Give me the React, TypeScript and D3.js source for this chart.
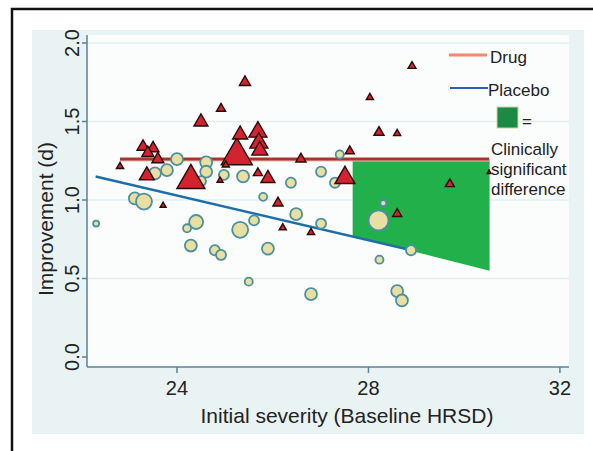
import { useEffect, useRef } from 'react';
import * as d3 from 'd3';

// Drug arms (triangles): baseline severity, improvement (d), sample weight
const drugX = [25.42, 24.92, 24.5, 23.29, 23.5, 23.39, 23.6, 22.81, 23.37, 24.29, 25.25, 25.32, 25.69, 25.71, 25.73, 25.69, 25.9, 24.9, 25.02, 23.71, 26.11, 26.21, 26.8, 26.59, 27.61, 27.51, 28.03, 28.91, 28.22, 28.6, 28.6, 29.7, 30.52];
const drugY = [1.76, 1.59, 1.51, 1.35, 1.34, 1.31, 1.27, 1.22, 1.17, 1.15, 1.31, 1.43, 1.45, 1.38, 1.33, 1.18, 1.15, 1.13, 1.23, 0.97, 0.99, 0.83, 0.8, 1.27, 1.32, 1.16, 1.66, 1.86, 1.44, 1.43, 0.92, 1.11, 1.18];
const drugN = [24, 16, 38, 28, 28, 28, 28, 10, 44, 153, 188, 44, 63, 63, 50, 16, 38, 7, 10, 7, 20, 10, 10, 20, 16, 78, 10, 12, 20, 10, 16, 16, 3];

// Placebo arms (circles)
const placeboX = [24.0, 23.79, 23.54, 24.61, 24.61, 24.5, 24.98, 25.38, 25.8, 26.38, 26.49, 27.01, 27.3, 27.4, 23.12, 23.31, 22.31, 24.4, 24.21, 24.29, 24.79, 24.92, 25.32, 25.61, 25.9, 25.5, 26.8, 27.01, 28.31, 28.21, 28.89, 28.23, 28.6, 28.7];
const placeboY = [1.26, 1.19, 1.17, 1.24, 1.18, 1.12, 1.16, 1.15, 1.02, 1.11, 0.91, 1.18, 1.11, 1.29, 1.01, 0.99, 0.85, 0.86, 0.82, 0.71, 0.68, 0.65, 0.81, 0.87, 0.69, 0.48, 0.4, 0.85, 0.98, 0.87, 0.68, 0.62, 0.42, 0.36];
const placeboN = [51, 51, 51, 51, 51, 36, 36, 51, 23, 36, 51, 36, 36, 23, 51, 91, 13, 70, 23, 51, 36, 36, 91, 36, 51, 23, 51, 36, 13, 143, 36, 23, 51, 51];

// fitted lines and clinically significant region
const drugFitX = [22.81, 30.52];
const drugFitY = [1.26, 1.26];
const placeboFitX = [22.3, 28.9];
const placeboFitY = [1.15, 0.68];
const clinicalX = [27.67, 30.53];
const clinicalTop = [1.26, 1.26];
const clinicalBottom = [0.77, 0.55];

const xTicks = [24, 28, 32];
const yTicks = [0, 0.5, 1, 1.5, 2];

const FONT = '"Liberation Sans", Arial, Helvetica, sans-serif';

export default function App() {
  const svgRef = useRef<SVGSVGElement>(null);

  useEffect(() => {
    const svg = d3.select(svgRef.current);
    svg.selectAll('*').remove();

    const x = d3.scaleLinear().domain([22.12, 32.19]).range([87, 569]);
    const y = d3.scaleLinear().domain([0, 2]).range([357, 43]);
    const size = d3.scaleSqrt().domain([0, 200]).range([0, 32]);

    // frame + backgrounds
    svg.append('rect').attr('x', 12).attr('y', 9).attr('width', 700).attr('height', 600)
      .attr('fill', 'white').attr('stroke', '#111').attr('stroke-width', 2.5);
    svg.append('rect').attr('x', 32).attr('y', 30).attr('width', 552).attr('height', 404)
      .attr('fill', '#e9f3f3');
    svg.append('rect').attr('x', 87).attr('y', 35).attr('width', 482).attr('height', 332)
      .attr('fill', '#fbfdfd');

    // grid
    svg.append('g').selectAll('line').data(yTicks.filter(d => d > 0)).join('line')
      .attr('x1', 88).attr('x2', 569)
      .attr('y1', d => y(d)).attr('y2', d => y(d))
      .attr('stroke', '#e1eff2').attr('stroke-width', 1.5);

    // clinically significant region
    const area = d3.area<number>()
      .x((d, i) => x(clinicalX[i]))
      .y0((d, i) => y(clinicalBottom[i]))
      .y1((d, i) => y(clinicalTop[i]));
    svg.append('path').attr('d', area(clinicalX)).attr('fill', '#22b04b');

    const line = d3.line<number>();
    // drug fit
    svg.append('path')
      .attr('d', line(drugFitX.map((v, i) => [x(v), y(drugFitY[i])]) as any))
      .attr('fill', 'none').attr('stroke', '#f2b8a8').attr('stroke-width', 4.5);
    svg.append('path')
      .attr('d', line(drugFitX.map((v, i) => [x(v), y(drugFitY[i])]) as any))
      .attr('fill', 'none').attr('stroke', '#9e3a36').attr('stroke-width', 2.8);
    // placebo fit
    svg.append('path')
      .attr('d', line(placeboFitX.map((v, i) => [x(v), y(placeboFitY[i])]) as any))
      .attr('fill', 'none').attr('stroke', '#1f6fa6').attr('stroke-width', 2.5);

    // axes
    const axisColor = '#5b8199';
    svg.append('line').attr('x1', 87).attr('x2', 87).attr('y1', 35).attr('y2', 367)
      .attr('stroke', axisColor).attr('stroke-width', 1.5);
    svg.append('line').attr('x1', 87).attr('x2', 569).attr('y1', 367).attr('y2', 367)
      .attr('stroke', axisColor).attr('stroke-width', 1.5);

    svg.append('g').selectAll('line').data(yTicks).join('line')
      .attr('x1', 82).attr('x2', 87).attr('y1', d => y(d)).attr('y2', d => y(d))
      .attr('stroke', axisColor).attr('stroke-width', 1.5);
    svg.append('g').selectAll('text').data(yTicks).join('text')
      .attr('transform', d => `translate(79,${y(d)}) rotate(-90)`)
      .attr('text-anchor', 'middle')
      .style('font-family', FONT).style('font-size', '20px').attr('fill', '#222')
      .text(d => d3.format('.1f')(d));

    svg.append('g').selectAll('line').data(xTicks).join('line')
      .attr('x1', d => x(d)).attr('x2', d => x(d)).attr('y1', 367).attr('y2', 373)
      .attr('stroke', axisColor).attr('stroke-width', 1.5);
    svg.append('g').selectAll('text').data(xTicks).join('text')
      .attr('x', d => x(d)).attr('y', 395)
      .attr('text-anchor', 'middle')
      .style('font-family', FONT).style('font-size', '20px').attr('fill', '#222')
      .text(d => d);

    svg.append('text').attr('x', 347).attr('y', 423).attr('text-anchor', 'middle')
      .style('font-family', FONT).style('font-size', '21px').attr('fill', '#222')
      .text('Initial severity (Baseline HRSD)');
    svg.append('text').attr('transform', 'translate(53,219) rotate(-90)').attr('text-anchor', 'middle')
      .style('font-family', FONT).style('font-size', '21px').attr('fill', '#222')
      .text('Improvement (d)');

    // placebo circles
    svg.append('g').selectAll('circle').data(placeboX).join('circle')
      .attr('cx', d => x(d))
      .attr('cy', (d, i) => y(placeboY[i]))
      .attr('r', (d, i) => size(placeboN[i]) * 0.37)
      .attr('fill', '#e8e0a2').attr('stroke', '#4d8fa0').attr('stroke-width', 1.8);

    // drug triangles
    const tri = (s: number) => {
      const h = s * 0.866;
      return `M0,${-h / 2}L${s / 2},${h / 2}L${-s / 2},${h / 2}Z`;
    };
    svg.append('g').selectAll('path').data(drugX).join('path')
      .attr('transform', (d, i) => `translate(${x(d)},${y(drugY[i])})`)
      .attr('d', (d, i) => tri(size(drugN[i])))
      .attr('fill', '#d3232f').attr('stroke', '#2a0808').attr('stroke-width', 1.4)
      .attr('stroke-linejoin', 'miter');

    // legend
    const lg = svg.append('g').style('font-family', FONT).style('font-size', '17px');
    lg.append('line').attr('x1', 449).attr('x2', 487).attr('y1', 55).attr('y2', 55)
      .attr('stroke', '#f08a68').attr('stroke-width', 3);
    lg.append('text').attr('x', 490).attr('y', 63).attr('fill', '#222').text('Drug');
    lg.append('line').attr('x1', 450).attr('x2', 488).attr('y1', 88).attr('y2', 88)
      .attr('stroke', '#2d5fb8').attr('stroke-width', 2.2);
    lg.append('text').attr('x', 488).attr('y', 96).attr('fill', '#222').text('Placebo');
    lg.append('rect').attr('x', 497).attr('y', 107).attr('width', 21).attr('height', 21)
      .attr('fill', '#1c8a42').attr('stroke', '#c8d8a0').attr('stroke-width', 1);
    lg.append('text').attr('x', 522).attr('y', 127).attr('fill', '#222').text('=');
    ['Clinically', 'significant', 'difference'].forEach((t, i) => {
      lg.append('text').attr('x', 491).attr('y', 155 + i * 20).attr('fill', '#222').text(t);
    });
  }, []);

  return (
    <svg ref={svgRef} width={593} height={451}
      style={{ position: 'absolute', left: 0, top: 0, background: 'white' }} />
  );
}
